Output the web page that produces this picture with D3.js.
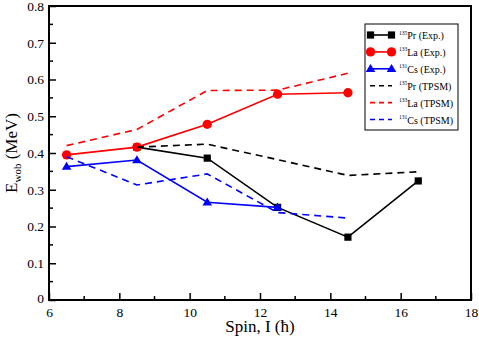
<!DOCTYPE html>
<html>
<head>
<meta charset="utf-8">
<script src="https://cdn.jsdelivr.net/npm/d3@7"></script>
<style>
  body { margin: 0; background: #fff; }
  text { font-family: "Liberation Serif", "DejaVu Serif", serif; }
</style>
</head>
<body>
<svg id="chart" width="479" height="339"></svg>
<script>
// Spin values for each data set
var spinPrExp = [8.5, 10.5, 12.5, 14.5, 16.5];
var spinLaExp = [6.5, 8.5, 10.5, 12.5, 14.5];
var spinCsExp = [6.5, 8.5, 10.5, 12.5];
var spinPrTh = [8.5, 10.5, 12.5, 14.5, 16.5];
var spinLaTh = [6.5, 8.5, 10.5, 12.5, 14.5];
var spinCsTh = [6.5, 8.5, 10.5, 12.5, 14.5];

// Wobbling energies (MeV)
var ewobPrExp = [0.416, 0.386, 0.252, 0.171, 0.324];
var ewobLaExp = [0.395, 0.416, 0.478, 0.560, 0.564];
var ewobCsExp = [0.363, 0.381, 0.266, 0.252];
var ewobPrTh = [0.416, 0.424, 0.382, 0.339, 0.349];
var ewobLaTh = [0.420, 0.464, 0.570, 0.571, 0.617];
var ewobCsTh = [0.390, 0.313, 0.343, 0.238, 0.223];

var xTicks = [6, 8, 10, 12, 14, 16, 18];
var yTicks = [0, 0.1, 0.2, 0.3, 0.4, 0.5, 0.6, 0.7, 0.8];

var series = [
  {name: "135", label: "Pr (Exp.)", x: spinPrExp, y: ewobPrExp, color: "#000", dash: null, marker: "square"},
  {name: "133", label: "La (Exp.)", x: spinLaExp, y: ewobLaExp, color: "#ff0000", dash: null, marker: "circle"},
  {name: "131", label: "Cs (Exp.)", x: spinCsExp, y: ewobCsExp, color: "#0000ff", dash: null, marker: "triangle"},
  {name: "135", label: "Pr (TPSM)", x: spinPrTh, y: ewobPrTh, color: "#000", dash: "7,5", marker: null},
  {name: "133", label: "La (TPSM)", x: spinLaTh, y: ewobLaTh, color: "#ff0000", dash: "7,5", marker: null},
  {name: "131", label: "Cs (TPSM)", x: spinCsTh, y: ewobCsTh, color: "#0000ff", dash: "7,5", marker: null}
];

var pLeft = 49, pRight = 471, pTop = 6, pBottom = 300;
var serif = "'Liberation Serif', 'DejaVu Serif', serif";

var x = d3.scaleLinear().domain([6, 18]).range([pLeft, pRight]);
var y = d3.scaleLinear().domain([0, 0.8]).range([pBottom, pTop]);

var svg = d3.select("#chart");

// minor ticks
var g = svg.append("g");
g.selectAll(".mx")
  .data(d3.range(7, 18, 2))
  .enter().append("line")
  .attr("x1", function(d) { return x(d); })
  .attr("x2", function(d) { return x(d); })
  .attr("y1", pBottom)
  .attr("y2", pBottom - 4)
  .attr("stroke", "#000").attr("stroke-width", 1.5);

g.selectAll(".my")
  .data(d3.range(0.05, 0.8, 0.1))
  .enter().append("line")
  .attr("x1", pLeft)
  .attr("x2", pLeft + 4)
  .attr("y1", function(d) { return y(d); })
  .attr("y2", function(d) { return y(d); })
  .attr("stroke", "#000").attr("stroke-width", 1.5);

// major ticks
var xAxis = svg.append("g")
  .attr("transform", "translate(0," + pBottom + ")")
  .call(d3.axisBottom(x).tickValues(xTicks).tickSize(-7).tickPadding(7).tickFormat(d3.format("d")));
var yAxis = svg.append("g")
  .attr("transform", "translate(" + pLeft + ",0)")
  .call(d3.axisLeft(y).tickValues(yTicks).tickSize(-7).tickPadding(5)
    .tickFormat(function(d) { return d === 0 ? "0" : d3.format(".1f")(d); }));

[xAxis, yAxis].forEach(function(a) {
  a.attr("font-family", serif).attr("font-size", 13.5);
  a.select(".domain").remove();
  a.selectAll(".tick line").attr("stroke", "#000").attr("stroke-width", 1.5);
  a.selectAll(".tick text")
    .attr("fill", "#000")
    .style("font-family", serif)
    .style("font-size", "13.5px");
});
xAxis.selectAll(".tick text").attr("dy", "0.71em");
yAxis.selectAll(".tick text").filter(function(d) { return d === 0; }).attr("dy", "0.2em");

// frame
svg.append("rect")
  .attr("x", pLeft).attr("y", pTop)
  .attr("width", pRight - pLeft).attr("height", pBottom - pTop)
  .attr("fill", "none").attr("stroke", "#000").attr("stroke-width", 2);

// lines
var line = d3.line()
  .x(function(d) { return x(d[0]); })
  .y(function(d) { return y(d[1]); });

series.forEach(function(s) {
  var pts = d3.zip(s.x, s.y);
  svg.append("path")
    .datum(pts)
    .attr("d", line)
    .attr("fill", "none")
    .attr("stroke", s.color)
    .attr("stroke-width", 1.6)
    .attr("stroke-dasharray", s.dash);
  if (s.marker) {
    svg.selectAll(null)
      .data(pts)
      .enter().append("path")
      .attr("transform", function(d) { return "translate(" + x(d[0]) + "," + y(d[1]) + ")"; })
      .attr("d", markerPath(s.marker))
      .attr("fill", s.color);
  }
});

function markerPath(type) {
  if (type === "square") return d3.symbol(d3.symbolSquare, 52)();
  if (type === "circle") return d3.symbol(d3.symbolCircle, 68)();
  return "M0,-4.8L4.8,3.2L-4.8,3.2Z";
}

// legend
var lg = svg.append("g");
lg.append("rect")
  .attr("x", 365).attr("y", 24)
  .attr("width", 93).attr("height", 106)
  .attr("fill", "#fff").attr("stroke", "#000").attr("stroke-width", 1);

series.forEach(function(s, i) {
  var ly = 35 + i * 16.9;
  lg.append("line")
    .attr("x1", 370).attr("x2", 392)
    .attr("y1", ly).attr("y2", ly)
    .attr("stroke", s.color).attr("stroke-width", 1.6)
    .attr("stroke-dasharray", s.dash ? "5,4" : null);
  if (s.marker) {
    [370.5, 391.5].forEach(function(mx) {
      lg.append("path")
        .attr("transform", "translate(" + mx + "," + ly + ")")
        .attr("d", markerPath(s.marker))
        .attr("fill", s.color);
    });
  }
  var t = lg.append("text")
    .attr("x", 399).attr("y", ly + 4)
    .attr("fill", "#000")
    .style("font-size", "10px");
  t.append("tspan").attr("dy", "-4.5").style("font-size", "5.5px").text(s.name);
  t.append("tspan").attr("dy", "4.5").text(s.label);
});

// axis titles
svg.append("text")
  .attr("x", 260)
  .attr("y", 332)
  .attr("text-anchor", "middle")
  .attr("fill", "#000")
  .style("font-size", "17px")
  .text("Spin, I (\u0127)");

var yt = svg.append("text")
  .attr("transform", "translate(17,153) rotate(-90)")
  .attr("text-anchor", "middle")
  .attr("fill", "#000")
  .style("font-size", "17px");
yt.append("tspan").text("E");
yt.append("tspan").attr("dy", "4").style("font-size", "11px").text("wob");
yt.append("tspan").attr("dy", "-4").text(" (MeV)");
</script>
</body>
</html>
